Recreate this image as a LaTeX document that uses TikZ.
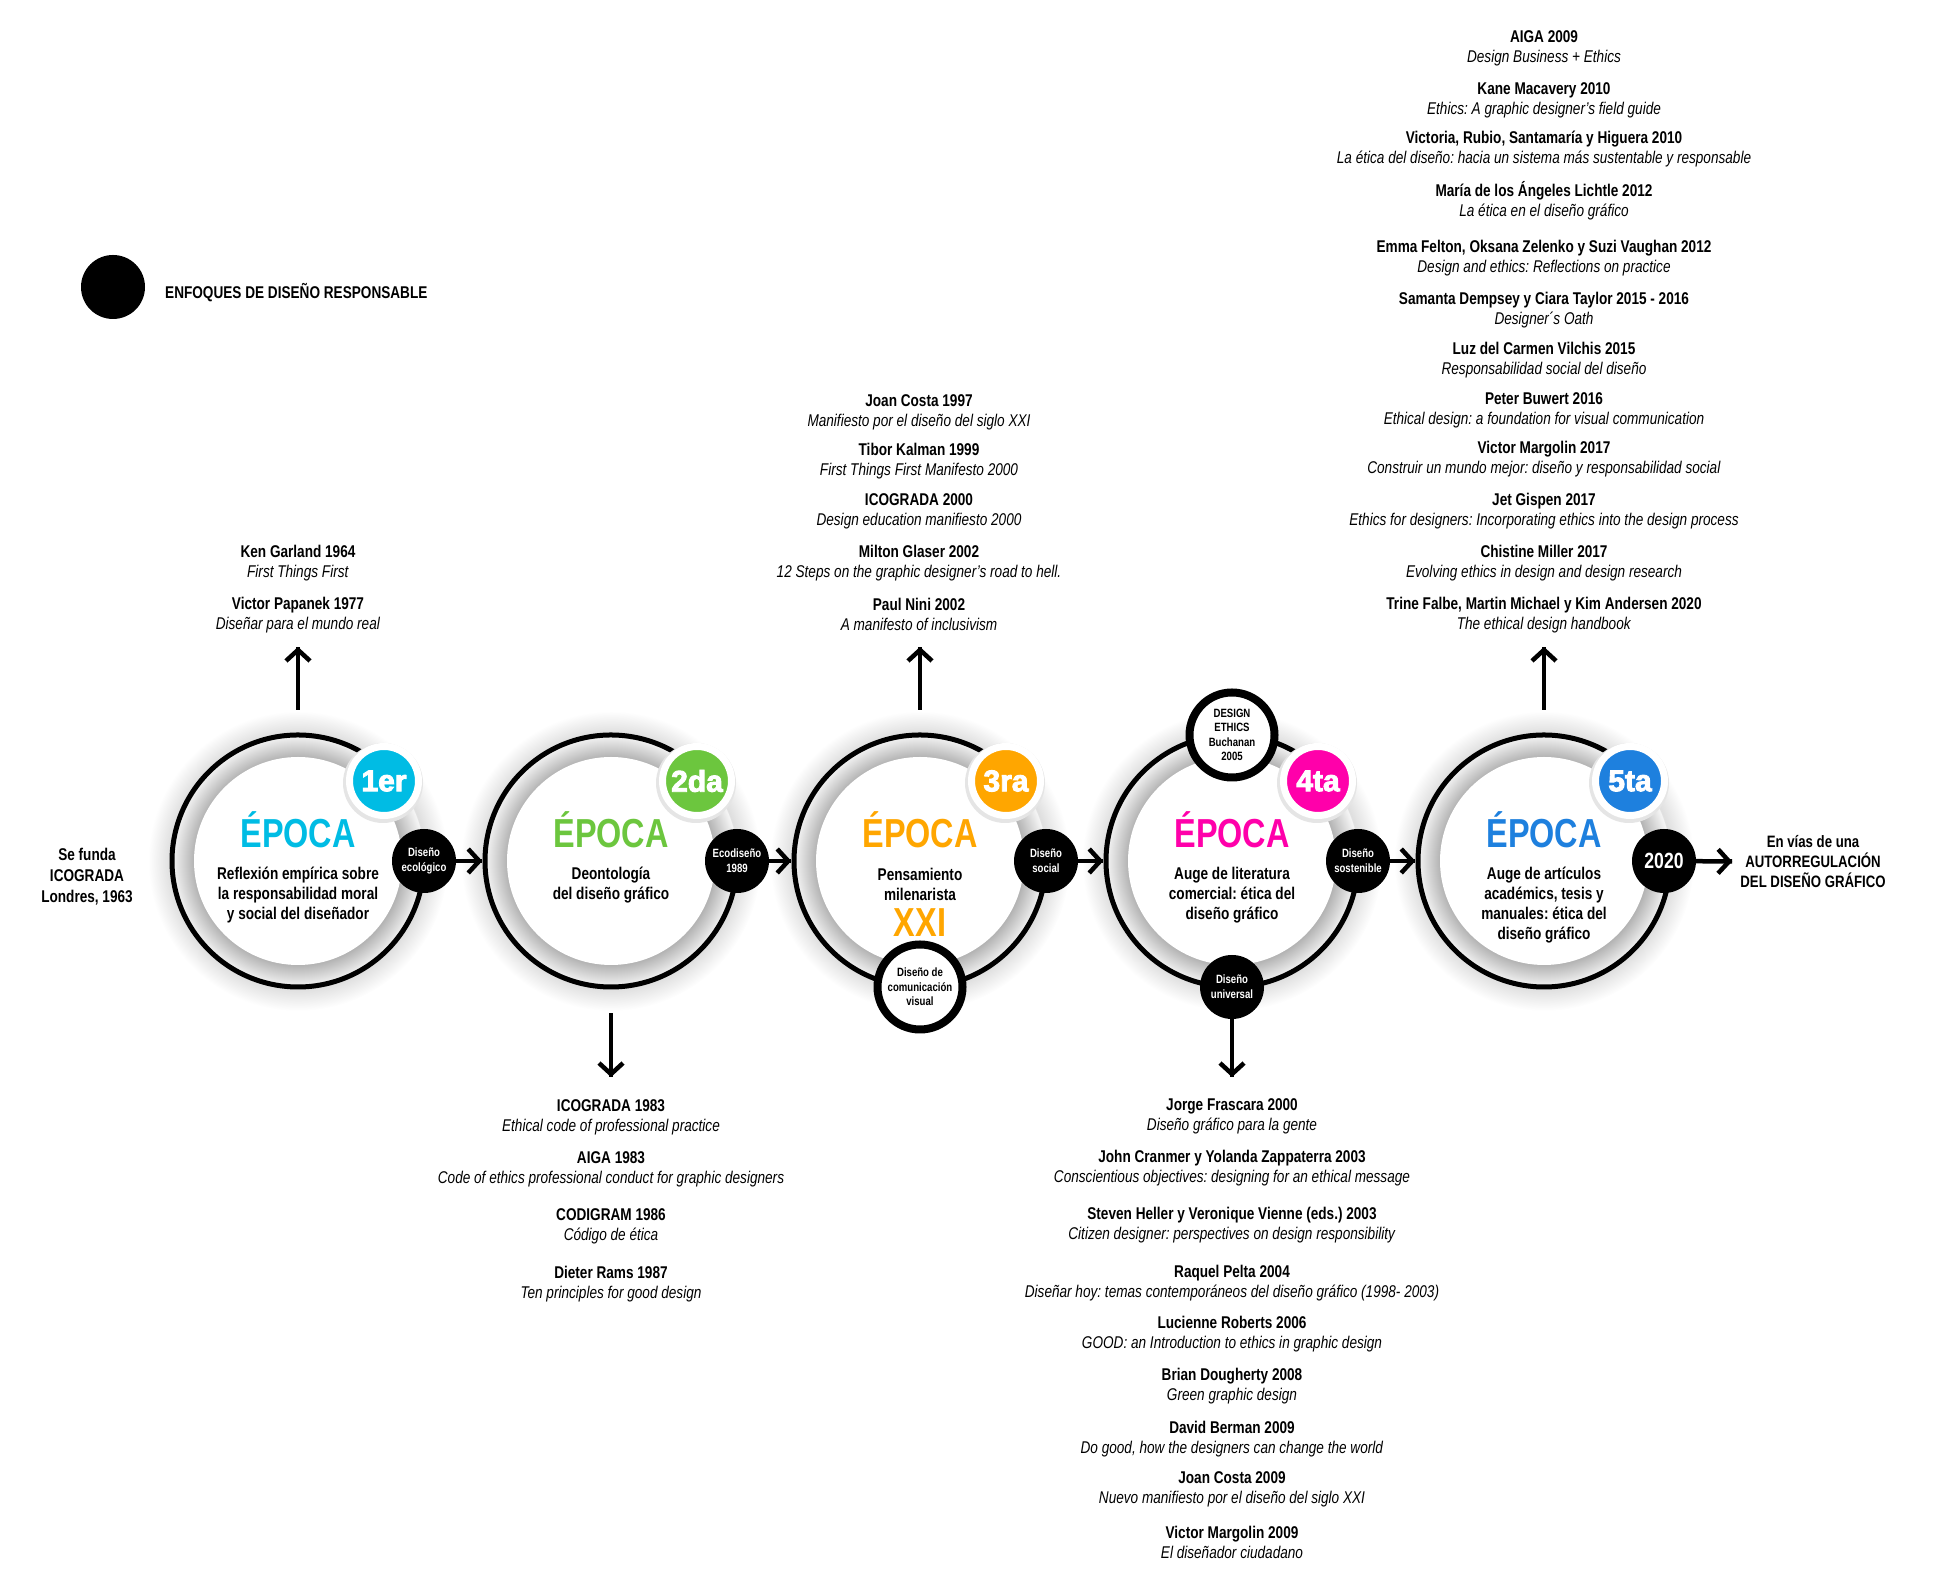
\documentclass[tikz,border=0pt]{standalone}
\usepackage{fontspec}
\setmainfont{Liberation Sans}[FakeStretch=0.8]
\newfontfamily\cifra{Liberation Sans}[UprightFeatures={FakeBold=3}, BoldFeatures={FakeBold=3}]
\frenchspacing
\usepackage{tikz}
\usetikzlibrary{positioning,
calc,
shapes.geometric,
arrows.meta,
decorations.markings}
\definecolor{uno}{RGB}{0,188,228}
\definecolor{dos}{RGB}{108,198,62}
\definecolor{tres}{RGB}{255,166,0}
\definecolor{cuatro}{RGB}{255,0,170}
\definecolor{cinco}{RGB}{30,128,222}
\pgfdeclareradialshading{sombra}{\pgfpoint{0bp}{0bp}}{color(0bp)=(black!30); color(17.3bp)=(black!30); color(21bp)=(black!4); color(21.2bp)=(black!13); color(25bp)=(white); color(50bp)=(white)}
\tikzstyle{Flecha} = [
line width=4.5pt,
decoration={
markings,
mark=at position 0.999 with {
\arrow[line width=4.5pt]{Straight Barb[length=11pt,width=24pt]}
}
},
preaction = {decorate}
]
\tikzstyle{aro} = [circle, minimum size=257, inner sep=0]
\tikzstyle{enfoque} = [circle, fill=black, minimum size=64, inner sep=0, text=white, align=center, font=\bfseries\fontsize{12}{15}\selectfont]
\tikzstyle{hito} = [circle, fill=white, draw=black, line width=8pt, minimum size=85, inner sep=0, align=center, font=\bfseries\fontsize{12}{14.5}\selectfont]
\tikzstyle{insignia} = [circle, draw=white, line width=7pt, minimum size=69, inner sep=0, text=white, font=\cifra\bfseries\fontsize{30}{30}\selectfont]
\tikzstyle{epoca} = [anchor=base, inner sep=0, font=\bfseries\fontsize{40.5}{40}\selectfont]
\tikzstyle{lema} = [align=center, inner sep=0, font=\bfseries\fontsize{17}{20}\selectfont]
\tikzstyle{obra} = [align=center, inner sep=0, font=\fontsize{17}{20}\selectfont]

\begin{document}
\begin{tikzpicture}[x=1pt, y=1pt]
   \useasboundingbox (0,0) rectangle (1940,1587);

   \node[circle, fill=black, minimum size=64, inner sep=0] (ley) at (113,1300) {};
   \node[anchor=base west, inner sep=0, font=\bfseries\fontsize{17}{20}\selectfont] (leyt) at (165,1288) {ENFOQUES DE DISEÑO RESPONSABLE};

   \node[aro] (r1) at (298,726) {};
   \node[aro] (r2) at (611,726) {};
   \node[aro] (r3) at (920,726) {};
   \node[aro] (r4) at (1232,726) {};
   \node[aro] (r5) at (1544,726) {};

   \shade[shading=sombra] (r1.center) circle (150);
   \shade[shading=sombra] (r2.center) circle (150);
   \shade[shading=sombra] (r3.center) circle (150);
   \shade[shading=sombra] (r4.center) circle (150);
   \shade[shading=sombra] (r5.center) circle (150);
   \fill[white] (r1.center) circle (104);
   \fill[white] (r2.center) circle (104);
   \fill[white] (r3.center) circle (104);
   \fill[white] (r4.center) circle (104);
   \fill[white] (r5.center) circle (104);
   \draw[line width=5pt] ([shift={(40:126)}]r1.center) arc[start angle=40, end angle=360, radius=126];
   \draw[line width=5pt] ([shift={(40:126)}]r2.center) arc[start angle=40, end angle=360, radius=126];
   \draw[line width=5pt] ([shift={(40:126)}]r3.center) arc[start angle=40, end angle=360, radius=126];
   \draw[line width=5pt] ([shift={(40:126)}]r4.center) arc[start angle=40, end angle=360, radius=126];
   \draw[line width=5pt] ([shift={(40:126)}]r5.center) arc[start angle=40, end angle=360, radius=126];

   \fill[black!10] ([shift={(85,78)}]r1.center) circle (40);
   \fill[black!10] ([shift={(85,78)}]r2.center) circle (40);
   \fill[black!10] ([shift={(85,78)}]r3.center) circle (40);
   \fill[black!10] ([shift={(85,78)}]r4.center) circle (40);
   \fill[black!10] ([shift={(85,78)}]r5.center) circle (40);
   \node[insignia, fill=uno] (n1) at ([shift={(86,80)}]r1.center) {1er};
   \node[insignia, fill=dos] (n2) at ([shift={(86,80)}]r2.center) {2da};
   \node[insignia, fill=tres] (n3) at ([shift={(86,80)}]r3.center) {3ra};
   \node[insignia, fill=cuatro] (n4) at ([shift={(86,80)}]r4.center) {4ta};
   \node[insignia, fill=cinco] (n5) at ([shift={(86,80)}]r5.center) {5ta};

   \node[enfoque] (e1) at ([xshift=126]r1.center) {Diseño\\ecológico};
   \node[enfoque] (e2) at ([xshift=126]r2.center) {Ecodiseño\\1989};
   \node[enfoque] (e3) at ([xshift=126]r3.center) {Diseño\\social};
   \node[enfoque] (e4) at ([xshift=126]r4.center) {Diseño\\sostenible};
   \node[enfoque, font=\bfseries\fontsize{22}{22}\selectfont] (e5) at ([xshift=120]r5.center) {2020};
   \node[hito] (b3) at ([yshift=-126]r3.center) {Diseño de\\comunicación\\visual};
   \node[hito] (t4) at ([yshift=126]r4.center) {DESIGN\\ETHICS\\Buchanan\\2005};
   \node[enfoque] (u4) at ([yshift=-126]r4.center) {Diseño\\universal};

   \node[epoca, text=uno] (ep1) at (298,739) {ÉPOCA};
   \node[epoca, text=dos] (ep2) at (611,739) {ÉPOCA};
   \node[epoca, text=tres] (ep3) at (920,739) {ÉPOCA};
   \node[epoca, text=cuatro] (ep4) at (1232,739) {ÉPOCA};
   \node[epoca, text=cinco] (ep5) at (1544,739) {ÉPOCA};
   \node[epoca, text=tres] (xxi) at (920,650) {XXI};

   \node[lema] (d1) at (298,692) {Reflexión empírica sobre\\la responsabilidad moral\\y social del diseñador};
   \node[lema] (d2) at (611,702) {Deontología\\del diseño gráfico};
   \node[lema] (d3) at (920,703) {Pensamiento\\milenarista};
   \node[lema] (d4) at (1232,692) {Auge de literatura\\comercial: ética del\\diseño gráfico};
   \node[lema] (d5) at (1544,682) {Auge de artículos\\académics, tesis y\\manuales: ética del\\diseño gráfico};

   \node[lema, font=\bfseries\fontsize{17}{21}\selectfont] (ini) at (87,710) {Se funda\\ICOGRADA\\Londres, 1963};
   \node[lema, inner sep=8pt, font=\bfseries\fontsize{16.5}{20}\selectfont] (fin) at (1813,725) {En vías de una\\AUTORREGULACIÓN\\DEL DISEÑO GRÁFICO};

   \node[obra] (a1) at (298,1024) {\textbf{Ken Garland 1964}\\\textit{First Things First}};
   \node[obra] (a2) at (298,972) {\textbf{Victor Papanek 1977}\\\textit{Diseñar para el mundo real}};

   \node[obra] (b1) at (611,470) {\textbf{ICOGRADA 1983}\\\textit{Ethical code of professional practice}};
   \node[obra] (b2) at (611,418) {\textbf{AIGA 1983}\\\textit{Code of ethics professional conduct for graphic designers}};
   \node[obra] (b5) at (611,361) {\textbf{CODIGRAM 1986}\\\textit{Código de ética}};
   \node[obra] (b6) at (611,303) {\textbf{Dieter Rams 1987}\\\textit{Ten principles for good design}};

   \node[obra] (c1) at (919,1175) {\textbf{Joan Costa 1997}\\\textit{Manifiesto por el diseño del siglo XXI}};
   \node[obra] (c2) at (919,1126) {\textbf{Tibor Kalman 1999}\\\textit{First Things First Manifesto 2000}};
   \node[obra] (c5) at (919,1076) {\textbf{ICOGRADA 2000}\\\textit{Design education manifiesto 2000}};
   \node[obra] (c6) at (919,1024) {\textbf{Milton Glaser 2002}\\\textit{12 Steps on the graphic designer's road to hell.}};
   \node[obra] (c7) at (919,973) {\textbf{Paul Nini 2002}\\\textit{A manifesto of inclusivism}};

   \node[obra] (f1) at (1232,471) {\textbf{Jorge Frascara 2000}\\\textit{Diseño gráfico para la gente}};
   \node[obra] (f2) at (1232,419) {\textbf{John Cranmer y Yolanda Zappaterra 2003}\\\textit{Conscientious objectives: designing for an ethical message}};
   \node[obra] (f3) at (1232,362) {\textbf{Steven Heller y Veronique Vienne (eds.) 2003}\\\textit{Citizen designer: perspectives on design responsibility}};
   \node[obra] (f4) at (1232,304) {\textbf{Raquel Pelta 2004}\\\textit{Diseñar hoy: temas contemporáneos del diseño gráfico (1998- 2003)}};
   \node[obra] (f5) at (1232,253) {\textbf{Lucienne Roberts 2006}\\\textit{GOOD: an Introduction to ethics in graphic design}};
   \node[obra] (f6) at (1232,201) {\textbf{Brian Dougherty 2008}\\\textit{Green graphic design}};
   \node[obra] (f7) at (1232,148) {\textbf{David Berman 2009}\\\textit{Do good, how the designers can change the world}};
   \node[obra] (f8) at (1232,98) {\textbf{Joan Costa 2009}\\\textit{Nuevo manifiesto por el diseño del siglo XXI}};
   \node[obra] (f9) at (1232,45) {\textbf{Victor Margolin 2009}\\\textit{El diseñador ciudadano}};

   \node[obra] (g1) at (1544,1539) {\textbf{AIGA 2009}\\\textit{Design Business + Ethics}};
   \node[obra] (g2) at (1544,1487) {\textbf{Kane Macavery 2010}\\\textit{Ethics: A graphic designer’s field guide}};
   \node[obra] (g3) at (1544,1438) {\textbf{Victoria, Rubio, Santamaría y Higuera 2010}\\\textit{La ética del diseño: hacia un sistema más sustentable y responsable}};
   \node[obra] (g4) at (1544,1386) {\textbf{María de los Ángeles Lichtle 2012}\\\textit{La ética en el diseño gráfico}};
   \node[obra] (g5) at (1544,1329) {\textbf{Emma Felton, Oksana Zelenko y Suzi Vaughan 2012}\\\textit{Design and ethics: Reflections on practice}};
   \node[obra] (g6) at (1544,1277) {\textbf{Samanta Dempsey y Ciara Taylor 2015 - 2016}\\\textit{Designer´s Oath}};
   \node[obra] (g7) at (1544,1227) {\textbf{Luz del Carmen Vilchis 2015}\\\textit{Responsabilidad social del diseño}};
   \node[obra] (g8) at (1544,1177) {\textbf{Peter Buwert 2016}\\\textit{Ethical design: a foundation for visual communication}};
   \node[obra] (g9) at (1544,1128) {\textbf{Victor Margolin 2017}\\\textit{Construir un mundo mejor: diseño y responsabilidad social}};
   \node[obra] (g10) at (1544,1076) {\textbf{Jet Gispen 2017}\\\textit{Ethics for designers: Incorporating ethics into the design process}};
   \node[obra] (g11) at (1544,1024) {\textbf{Chistine Miller 2017}\\\textit{Evolving ethics in design and design research}};
   \node[obra] (g12) at (1544,972) {\textbf{Trine Falbe, Martin Michael y Kim Andersen 2020}\\\textit{The ethical design handbook}};

   \draw [Flecha] (e1) -- (r2);
   \draw [Flecha] (e2) -- (r3);
   \draw [Flecha] (e3) -- (r4);
   \draw [Flecha] (e4) -- (r5);
   \draw [Flecha] (e5) -- (fin);
   \draw [Flecha] ([yshift=22.5]r1.north) -- ([yshift=85.5]r1.north);
   \draw [Flecha] ([yshift=22.5]r3.north) -- ([yshift=85.5]r3.north);
   \draw [Flecha] ([yshift=22.5]r5.north) -- ([yshift=85.5]r5.north);
   \draw [Flecha] ([yshift=-23.5]r2.south) -- ([yshift=-87.5]r2.south);
   \draw [Flecha] (u4) -- ([yshift=-87.5]r4.south);
\end{tikzpicture}
\end{document}
